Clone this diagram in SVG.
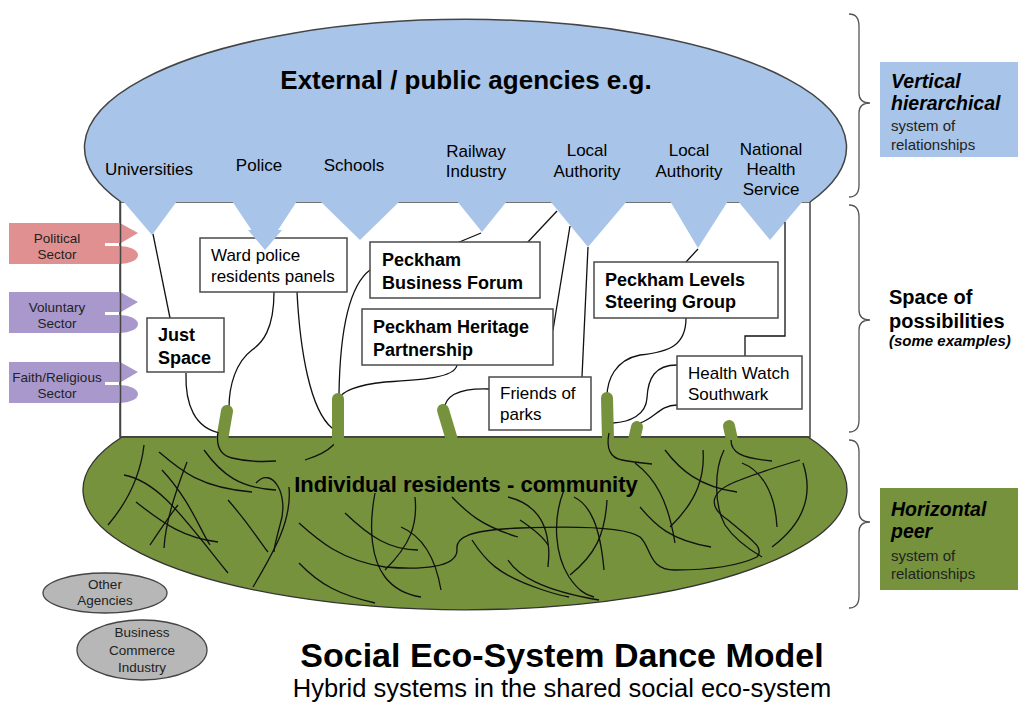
<svg xmlns="http://www.w3.org/2000/svg" width="1018" height="705" viewBox="0 0 1018 705">
<style>
text{font-family:"Liberation Sans",Arial,sans-serif;fill:#000}
.lbl{font-size:17px;text-anchor:middle}
.bx{fill:#fff;stroke:#4a4a4a;stroke-width:1.5}
.bt{font-size:18px;font-weight:bold}
.nt{font-size:17px}
.cn{fill:none;stroke:#111;stroke-width:1.3}
.sq{fill:none;stroke:#111;stroke-width:1.3}
.stem{fill:none;stroke:#76923c;stroke-width:12;stroke-linecap:round}
.blue{fill:#a8c4e8}
.sec{font-size:13.5px;text-anchor:middle;fill:#222}
.gr{fill:#b7b7b7;stroke:#444;stroke-width:1.3}
.gt{font-size:13.5px;text-anchor:middle;fill:#222}
.br{fill:none;stroke:#555;stroke-width:1.3}
</style>

<!-- space of possibilities frame -->
<g id="space">
<rect x="120" y="202" width="690" height="235" fill="#fff" stroke="#444" stroke-width="1.5"/>
</g>

<!-- external agencies ellipse -->
<g id="external">
<path class="blue" d="M121,202 A381 128 0 1 1 810,202" stroke="#444" stroke-width="1.5"/>
<polygon class="blue" points="123,201 177,201 152,235"/>
<polygon class="blue" points="232,201 297,201 265,250"/>
<polygon class="blue" points="320,201 400,201 360,240"/>
<polygon class="blue" points="457,201 507,201 482,232"/>
<polygon class="blue" points="550,201 627,201 588,247"/>
<polygon class="blue" points="670,201 728,201 698,248"/>
<polygon class="blue" points="738,201 803,201 770,240"/>
<text x="466" y="89" style="font-size:26px;font-weight:bold" text-anchor="middle">External / public agencies e.g.</text>
<text class="lbl" x="149" y="175">Universities</text>
<text class="lbl" x="259" y="171">Police</text>
<text class="lbl" x="354" y="171">Schools</text>
<text class="lbl" x="476" y="157">Railway</text>
<text class="lbl" x="476" y="177">Industry</text>
<text class="lbl" x="587" y="156">Local</text>
<text class="lbl" x="587" y="177">Authority</text>
<text class="lbl" x="689" y="156">Local</text>
<text class="lbl" x="689" y="177">Authority</text>
<text class="lbl" x="771" y="155">National</text>
<text class="lbl" x="771" y="175">Health</text>
<text class="lbl" x="771" y="195">Service</text>
</g>

<!-- residents community -->
<g id="community">
<path d="M122,437 H808 A382 120 0 1 1 122,437 Z" fill="#76923c" stroke="#333" stroke-width="1.3"/>
</g>

<!-- sectors -->
<g id="political">
<path d="M9,223 H120 L138,233 L121,243 H105 V246 H120 A18 9 0 0 1 120,264 H9 Z" fill="#e09090"/>
<text class="sec" x="57" y="243">Political</text>
<text class="sec" x="57" y="259">Sector</text>
</g>
<g id="voluntary">
<path d="M9,292 H120 L138,302 L121,312 H105 V315 H120 A18 9 0 0 1 120,333 H9 Z" fill="#a898cc"/>
<text class="sec" x="57" y="312">Voluntary</text>
<text class="sec" x="57" y="328">Sector</text>
</g>
<g id="faith">
<path d="M9,362 H120 L138,372 L121,382 H105 V385 H120 A18 9 0 0 1 120,403 H9 Z" fill="#a898cc"/>
<text class="sec" x="57" y="382">Faith/Religious</text>
<text class="sec" x="57" y="398">Sector</text>
</g>
<line x1="120.5" y1="202" x2="120.5" y2="437" stroke="#444" stroke-width="1.5"/>

<!-- connectors -->
<g id="connectors">
<path class="cn" d="M153,234 L170,318"/>
<path class="cn" d="M186,373 C185,405 195,428 220,433"/>
<path class="cn" d="M274,292 C274,330 262,343 252,350 C236,362 229,385 229,408"/>
<path class="cn" d="M297,292 C300,350 310,410 332,428 C345,440 330,452 305,460"/>
<path class="cn" d="M370,270 C350,285 340,330 339,394"/>
<path class="cn" d="M457,365 C455,378 420,380 385,382 C355,385 342,392 340,398"/>
<path class="cn" d="M481,233 L457,243"/>
<path class="cn" d="M557,211 L527,243"/>
<path class="cn" d="M570,226 L553,330"/>
<path class="cn" d="M588,247 L582,377"/>
<path class="cn" d="M489,389 C460,388 445,395 444,410"/>
<path class="cn" d="M698,249 L686,262"/>
<path class="cn" d="M686,318 C686,345 670,352 640,355 C615,360 607,380 607,397"/>
<path class="cn" d="M785,222 V336 H745 V356"/>
<path class="cn" d="M677,365 C655,365 648,378 647,398 C646,415 630,422 613,423"/>
<path class="cn" d="M677,405 C660,405 655,418 640,423"/>
</g>

<!-- stems -->
<g id="stems">
<path class="stem" d="M227,411 L222,440"/>
<path class="stem" d="M338,399 L338,440"/>
<path class="stem" d="M443,410 L452,440"/>
<path class="stem" d="M607,398 L608,440"/>
<path class="stem" d="M637,427 L634,440"/>
<path class="stem" d="M729,426 L732,440"/>
</g>

<!-- peer relationships squiggles -->
<g id="squiggles">
<path class="sq" d="M218,432 C216,445 220,455 232,458 C248,462 262,462 276,461"/>
<path class="sq" d="M609,433 C606,448 610,458 622,460 C632,462 642,463 652,464"/>
<path class="sq" d="M731,440 C731,452 740,458 772,461"/>
<path class="sq" d="M144,445 C140,480 125,505 108,525"/>
<path class="sq" d="M124,475 C160,482 185,520 228,573"/>
<path class="sq" d="M159,452 C180,470 200,488 252,492"/>
<path class="sq" d="M187,462 C172,500 165,530 164,548"/>
<path class="sq" d="M136,502 C165,525 185,538 218,542"/>
<path class="sq" d="M204,450 C222,475 240,488 276,490"/>
<path class="sq" d="M228,500 C250,525 262,545 268,552"/>
<path class="sq" d="M256,483 C272,465 290,495 280,525 C276,540 274,550 274,552"/>
<path class="sq" d="M253,587 C275,550 292,520 289,487"/>
<path class="sq" d="M299,523 C318,540 340,560 385,567 C420,570 457,568 457,550 C455,537 470,530 520,528 C570,526 625,526 640,537 C652,548 648,570 675,570 C710,570 740,565 757,557 C765,548 752,540 728,520 C705,505 712,490 740,480 C760,472 780,466 800,460"/>
<path class="sq" d="M299,563 C320,585 340,595 375,603"/>
<path class="sq" d="M345,513 C370,537 390,550 418,550"/>
<path class="sq" d="M375,493 C368,530 372,560 385,577 C395,590 408,595 421,597"/>
<path class="sq" d="M415,497 C418,525 410,545 385,570"/>
<path class="sq" d="M401,527 C420,535 435,555 441,590"/>
<path class="sq" d="M452,497 C465,510 478,525 518,537"/>
<path class="sq" d="M472,540 C485,560 497,575 543,590 C555,594 562,596 569,597"/>
<path class="sq" d="M508,560 C518,575 540,590 599,600"/>
<path class="sq" d="M508,497 C528,502 545,515 548,543 C550,555 548,562 548,567"/>
<path class="sq" d="M564,490 C552,520 555,555 569,577 C578,590 585,595 594,597"/>
<path class="sq" d="M574,497 C590,505 600,525 604,570"/>
<path class="sq" d="M607,500 C605,535 595,555 570,575"/>
<path class="sq" d="M640,507 C655,525 670,540 711,547"/>
<path class="sq" d="M635,463 C655,478 668,500 675,543"/>
<path class="sq" d="M665,450 C680,470 700,487 737,492"/>
<path class="sq" d="M703,450 C705,475 698,500 670,527"/>
<path class="sq" d="M724,450 C714,470 714,505 725,525 C735,540 750,550 762,557"/>
<path class="sq" d="M742,463 C760,470 775,490 777,527"/>
<path class="sq" d="M803,463 C812,490 808,520 772,547"/>
<path class="sq" d="M150,545 C160,530 170,515 178,505"/>
<path class="sq" d="M162,470 C190,500 200,530 210,545"/>
<path class="sq" d="M520,520 C535,530 545,540 548,545"/>
</g>
<text x="466" y="492" style="font-size:22px;font-weight:bold" text-anchor="middle">Individual residents - community</text>

<!-- boxes -->
<g id="just-space">
<rect class="bx" x="147" y="318" width="77" height="54"/>
<text class="bt" x="158" y="341">Just</text>
<text class="bt" x="158" y="364">Space</text>
</g>
<g id="ward-police">
<rect class="bx" x="200" y="238" width="147" height="54"/>
<text class="nt" x="211" y="261">Ward police</text>
<text class="nt" x="211" y="282">residents panels</text>
</g>
<g id="business-forum">
<rect class="bx" x="370" y="242" width="170" height="56"/>
<text class="bt" x="382" y="266">Peckham</text>
<text class="bt" x="382" y="289">Business Forum</text>
</g>
<g id="heritage">
<rect class="bx" x="362" y="309" width="191" height="56"/>
<text class="bt" x="373" y="333">Peckham Heritage</text>
<text class="bt" x="373" y="356">Partnership</text>
</g>
<g id="friends-parks">
<rect class="bx" x="489" y="377" width="102" height="53"/>
<text class="nt" x="500" y="399">Friends of</text>
<text class="nt" x="500" y="420">parks</text>
</g>
<g id="peckham-levels">
<rect class="bx" x="594" y="262" width="184" height="56"/>
<text class="bt" x="605" y="286">Peckham Levels</text>
<text class="bt" x="605" y="308">Steering Group</text>
</g>
<g id="health-watch">
<rect class="bx" x="677" y="356" width="125" height="53"/>
<text class="nt" x="688" y="379">Health Watch</text>
<text class="nt" x="688" y="400">Southwark</text>
</g>

<!-- police tooth tip over the panel box -->
<polygon class="blue" points="248,230 282,230 265,250"/>

<!-- braces -->
<g id="braces">
<path class="br" d="M849,14 Q859,14 859,26 V93 Q859,103 870,103 Q859,103 859,113 V185 Q859,197 849,197"/>
<path class="br" d="M849,205 Q859,205 859,217 V310 Q859,320 870,320 Q859,320 859,330 V420 Q859,432 849,432"/>
<path class="br" d="M849,440 Q859,440 859,452 V512 Q859,522 870,522 Q859,522 859,532 V596 Q859,608 849,608"/>
</g>

<g id="vertical">
<rect x="880" y="62" width="138" height="95" fill="#a8c4e8"/>
<text x="891" y="88" style="font-size:19.5px;font-weight:bold;font-style:italic">Vertical</text>
<text x="891" y="110" style="font-size:19.5px;font-weight:bold;font-style:italic">hierarchical</text>
<text x="891" y="131" style="font-size:15px;fill:#222">system of</text>
<text x="891" y="150" style="font-size:15px;fill:#222">relationships</text>
</g>
<g id="possibilities">
<text x="889" y="304" style="font-size:20px;font-weight:bold">Space of</text>
<text x="889" y="328" style="font-size:20px;font-weight:bold">possibilities</text>
<text x="889" y="346" style="font-size:15px;font-weight:bold;font-style:italic">(some examples)</text>
</g>
<g id="horizontal">
<rect x="880" y="488" width="138" height="102" fill="#76923c"/>
<text x="891" y="516" style="font-size:19.5px;font-weight:bold;font-style:italic">Horizontal</text>
<text x="891" y="538" style="font-size:19.5px;font-weight:bold;font-style:italic">peer</text>
<text x="891" y="561" style="font-size:15px;fill:#222">system of</text>
<text x="891" y="579" style="font-size:15px;fill:#222">relationships</text>
</g>

<g id="other-agencies">
<ellipse class="gr" cx="105" cy="593" rx="62" ry="20"/>
<text class="gt" x="105" y="589">Other</text>
<text class="gt" x="105" y="605">Agencies</text>
</g>
<g id="business-commerce">
<ellipse class="gr" cx="142" cy="650" rx="65" ry="30"/>
<text class="gt" x="142" y="637">Business</text>
<text class="gt" x="142" y="655">Commerce</text>
<text class="gt" x="142" y="672">Industry</text>
</g>

<g id="title">
<text x="562" y="667" style="font-size:34px;font-weight:bold" text-anchor="middle">Social Eco-System Dance Model</text>
<text x="562" y="697" style="font-size:25.5px" text-anchor="middle">Hybrid systems in the shared social eco-system</text>
</g>
</svg>
